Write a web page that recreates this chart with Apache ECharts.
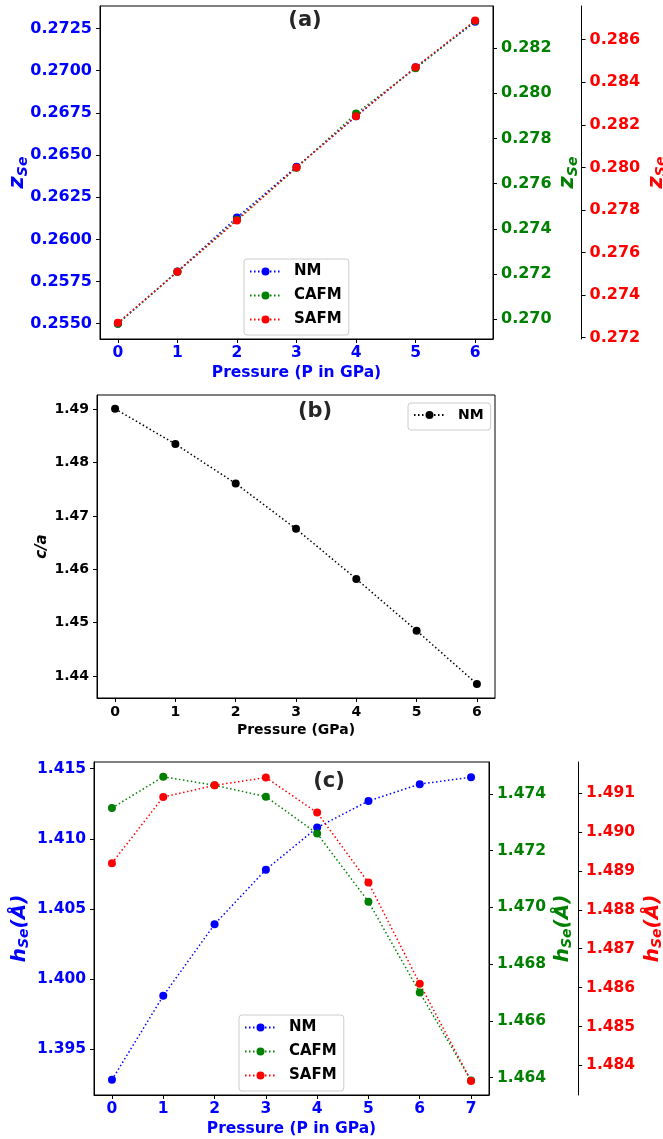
<!DOCTYPE html>
<html><head><meta charset="utf-8">
<script src="https://cdn.jsdelivr.net/npm/echarts@6/dist/echarts.min.js"></script>
<style>html,body{margin:0;padding:0;background:#fff}#c{width:663px;height:1139px}</style>
</head><body><div id="c"></div>
<script>
// ---------- data ----------
const pressureA = [0, 1, 2, 3, 4, 5, 6];
const zNM   = [0.2550, 0.2581, 0.2613, 0.2643, 0.2673, 0.2702, 0.2729];
const zCAFM = [0.2698, 0.2721, 0.2744, 0.2767, 0.2791, 0.2811, 0.2832];
const zSAFM = [0.2727, 0.2751, 0.2775, 0.2800, 0.2824, 0.2847, 0.2869];

const pressureB = [0, 1, 2, 3, 4, 5, 6];
const caNM = [1.4901, 1.4835, 1.4761, 1.4676, 1.4582, 1.4485, 1.4385];

const pressureC = [0, 1, 2, 3, 4, 5, 6, 7];
const hNM   = [1.3928, 1.3988, 1.4039, 1.4078, 1.4108, 1.4127, 1.4139, 1.4144];
const hCAFM = [1.4735, 1.4746, 1.4743, 1.4739, 1.4726, 1.4702, 1.4670, 1.4639];
const hSAFM = [1.4892, 1.4909, 1.4912, 1.4914, 1.4905, 1.4887, 1.4861, 1.4836];

const xTicksA = [0, 1, 2, 3, 4, 5, 6];
const xTicksB = [0, 1, 2, 3, 4, 5, 6];
const xTicksC = [0, 1, 2, 3, 4, 5, 6, 7];
const yTicksALeft  = [0.2550, 0.2575, 0.2600, 0.2625, 0.2650, 0.2675, 0.2700, 0.2725];
const yTicksAGreen = [0.270, 0.272, 0.274, 0.276, 0.278, 0.280, 0.282];
const yTicksARed   = [0.272, 0.274, 0.276, 0.278, 0.280, 0.282, 0.284, 0.286];
const yTicksB      = [1.44, 1.45, 1.46, 1.47, 1.48, 1.49];
const yTicksCLeft  = [1.395, 1.400, 1.405, 1.410, 1.415];
const yTicksCGreen = [1.464, 1.466, 1.468, 1.470, 1.472, 1.474];
const yTicksCRed   = [1.484, 1.485, 1.486, 1.487, 1.488, 1.489, 1.490, 1.491];

// ---------- styles ----------
const FONT = 'DejaVu Sans';
const BLUE = '#0000ff', GREEN = '#008000', RED = '#ff0000', BLACK = '#000000';
const zip = (xs, ys) => xs.map((x, i) => [x, ys[i]]);

function xAxis(grid, min, max, ticks, color, fs, name, gap, margin) {
  return {
    type: 'value', gridIndex: grid, min: min, max: max,
    splitLine: { show: false },
    axisLine: { show: true, onZero: false, lineStyle: { color: BLACK, width: 1 } },
    axisTick: { show: true, customValues: ticks, length: 4, lineStyle: { color: BLACK } },
    axisLabel: { customValues: ticks, color: color, fontSize: fs, fontWeight: 'bold', fontFamily: FONT, margin: margin,
      formatter: v => String(Math.round(v)) },
    name: name, nameLocation: 'middle', nameGap: gap, nameMoveOverlap: false,
    nameTextStyle: { color: color, fontSize: fs, fontWeight: 'bold', fontFamily: FONT }
  };
}
function yAxis(grid, pos, offset, min, max, ticks, dec, color, fs, name, gap, nameStyle) {
  return {
    type: 'value', gridIndex: grid, position: pos, offset: offset, min: min, max: max,
    splitLine: { show: false },
    axisLine: { show: true, onZero: false, lineStyle: { color: BLACK, width: 1 } },
    axisTick: { show: true, customValues: ticks, length: 4, lineStyle: { color: BLACK } },
    axisLabel: { customValues: ticks, color: color, fontSize: fs, fontWeight: 'bold', fontFamily: FONT, margin: 8,
      formatter: v => v.toFixed(dec) },
    name: name, nameLocation: 'middle', nameGap: gap, nameRotate: 90, nameMoveOverlap: false,
    nameTextStyle: nameStyle
  };
}
function subName(color, big, small) {
  const base = { color: color, fontWeight: 'bold', fontStyle: 'italic', fontFamily: FONT };
  return {
    color: color,
    rich: {
      i: Object.assign({}, base, { fontSize: big, lineHeight: big + 4, verticalAlign: 'middle' }),
      s: Object.assign({}, base, { fontSize: small, lineHeight: small, verticalAlign: 'bottom' }),
      p: Object.assign({}, base, { fontSize: big, lineHeight: big + 4, verticalAlign: 'middle' })
    }
  };
}
function line(name, data, color, xi, yi) {
  return {
    type: 'line', name: name, xAxisIndex: xi, yAxisIndex: yi, data: data,
    symbol: 'circle', symbolSize: 8, showSymbol: true,
    lineStyle: { color: color, width: 1.5, type: [1.5, 2.5] },
    itemStyle: { color: color, borderWidth: 0 },
    emphasis: { disabled: true }, z: 3
  };
}
function legend(names, left, top, fs) {
  return {
    data: names, orient: 'vertical', left: left, top: top,
    padding: [5, 7, 8, 5], itemGap: 9, itemWidth: 31, itemHeight: 10,
    borderColor: '#cccccc', borderWidth: 1, borderRadius: 3, backgroundColor: 'rgba(255,255,255,0.8)',
    formatter: n => n.split('_')[0],
    textStyle: { color: BLACK, fontSize: fs, fontWeight: 'bold', fontFamily: FONT, lineHeight: 14, padding: [0, 0, 0, 8] },
    selectedMode: false
  };
}
const gridBase = { show: true, borderColor: BLACK, borderWidth: 1, backgroundColor: 'transparent', containLabel: false, outerBoundsMode: 'none' };

const chart = echarts.init(document.getElementById('c'), null, { renderer: 'canvas', width: 663, height: 1139 });
chart.setOption({
  animation: false,
  backgroundColor: '#ffffff',
  grid: [
    Object.assign({ left: 100, top: 6, width: 393, height: 333 }, gridBase),
    Object.assign({ left: 97, top: 395, width: 398, height: 303 }, gridBase),
    Object.assign({ left: 94, top: 762, width: 395, height: 333 }, gridBase)
  ],
  xAxis: [
    xAxis(0, -0.3, 6.3, xTicksA, BLUE, 15.5, 'Pressure (P in GPa)', 26, 6),
    xAxis(1, -0.3, 6.3, xTicksB, BLACK, 14, 'Pressure (GPa)', 25, 7),
    xAxis(2, -0.35, 7.35, xTicksC, BLUE, 15.5, 'Pressure (P in GPa)', 26, 6)
  ],
  yAxis: [
    yAxis(0, 'left', 0, 0.25409, 0.27384, yTicksALeft, 4, BLUE, 16, '{i|z}{s|Se}', 70, subName(BLUE, 21, 14)),
    yAxis(0, 'right', 0, 0.26912, 0.28386, yTicksAGreen, 3, GREEN, 16, '{i|z}{s|Se}', 62.5, subName(GREEN, 21, 14)),
    yAxis(0, 'right', 88.6, 0.27194, 0.28758, yTicksARed, 3, RED, 16, '{i|z}{s|Se}', 62, subName(RED, 21, 14)),
    yAxis(1, 'left', 0, 1.43587, 1.4927, yTicksB, 2, BLACK, 14, 'c/a', 47,
      { color: BLACK, fontSize: 15, fontWeight: 'bold', fontStyle: 'italic', fontFamily: FONT }),
    yAxis(2, 'left', 0, 1.39172, 1.41548, yTicksCLeft, 3, BLUE, 15.5, '{i|h}{s|Se}{p|(Å)}', 62.5, subName(BLUE, 20, 14)),
    yAxis(2, 'right', 0, 1.46339, 1.47512, yTicksCGreen, 3, GREEN, 15.5, '{i|h}{s|Se}{p|(Å)}', 61.5, subName(GREEN, 20, 14)),
    yAxis(2, 'right', 89.1, 1.48324, 1.4918, yTicksCRed, 3, RED, 15.5, '{i|h}{s|Se}{p|(Å)}', 62.5, subName(RED, 20, 14))
  ],
  legend: [
    legend(['NM_a', 'CAFM_a', 'SAFM_a'], 244, 259, 15),
    legend(['NM_b'], 408, 403, 14),
    legend(['NM_c', 'CAFM_c', 'SAFM_c'], 239, 1015, 15)
  ],
  series: [
    line('NM_a', zip(pressureA, zNM), BLUE, 0, 0),
    line('CAFM_a', zip(pressureA, zCAFM), GREEN, 0, 1),
    line('SAFM_a', zip(pressureA, zSAFM), RED, 0, 2),
    line('NM_b', zip(pressureB, caNM), BLACK, 1, 3),
    line('NM_c', zip(pressureC, hNM), BLUE, 2, 4),
    line('CAFM_c', zip(pressureC, hCAFM), GREEN, 2, 5),
    line('SAFM_c', zip(pressureC, hSAFM), RED, 2, 6)
  ],
  graphic: [
    { type: 'text', x: 305, y: 21, style: { text: '(a)', fill: '#262626', font: 'bold 21px "DejaVu Sans"', textAlign: 'center', textVerticalAlign: 'middle' } },
    { type: 'text', x: 315, y: 412, style: { text: '(b)', fill: '#262626', font: 'bold 21px "DejaVu Sans"', textAlign: 'center', textVerticalAlign: 'middle' } },
    { type: 'text', x: 329, y: 782, style: { text: '(c)', fill: '#262626', font: 'bold 21px "DejaVu Sans"', textAlign: 'center', textVerticalAlign: 'middle' } }
  ]
});
</script></body></html>
